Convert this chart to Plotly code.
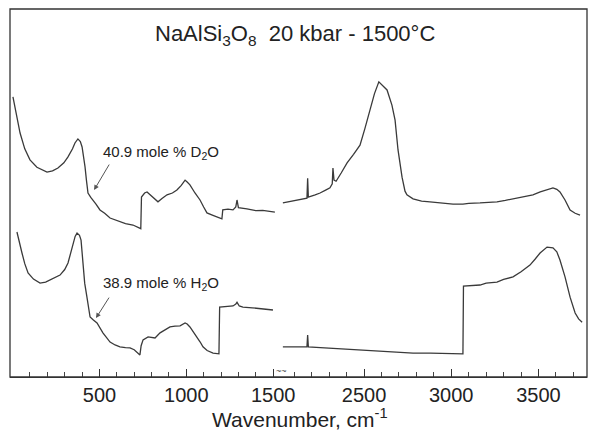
import plotly.graph_objects as go

# ---- data (wavenumber cm-1, absorbance offset arb. units) ----
d2o_low_wn = [2, 20, 43, 70, 100, 140, 198, 230, 261, 295, 319, 345, 359, 376, 390, 400, 410, 417, 425, 434,
              450, 463, 480, 503, 530, 561, 590, 618, 650, 693, 715, 738, 742, 760, 774, 800, 837, 860, 889,
              920, 946, 970, 993, 1005, 1021, 1050, 1079, 1100, 1119, 1150, 1177, 1205, 1210, 1240, 1269,
              1285, 1292, 1300, 1349, 1400, 1440, 1464, 1490, 1510]
d2o_low_a = [7.61, 7.15, 6.63, 6.20, 5.90, 5.70, 5.57, 5.60, 5.68, 5.82, 5.98, 6.20, 6.36, 6.47, 6.40, 6.25, 5.95,
             5.71, 5.35, 5.00, 4.88, 4.81, 4.70, 4.54, 4.45, 4.32, 4.27, 4.21, 4.17, 4.13, 4.09, 4.03, 4.89, 5.00,
             5.03, 4.92, 4.76, 4.85, 4.95, 5.00, 5.08, 5.20, 5.35, 5.30, 5.22, 5.00, 4.81, 4.62, 4.46, 4.40, 4.35,
             4.30, 4.54, 4.56, 4.54, 4.62, 4.81, 4.60, 4.57, 4.52, 4.53, 4.51, 4.48, 4.48]

d2o_high_wn = [2035, 2093, 2150, 2173, 2177, 2181, 2220, 2248, 2280, 2305, 2318, 2322, 2328, 2340, 2370, 2403,
               2440, 2477, 2505, 2534, 2560, 2585, 2600, 2632, 2660, 2678, 2695, 2707, 2718, 2735, 2746, 2781,
               2830, 2878, 2950, 3010, 3067, 3100, 3165, 3210, 3262, 3310, 3354, 3410, 3468, 3510, 3549, 3583,
               3605, 3623, 3652, 3681, 3710, 3738]
d2o_high_a = [4.73, 4.78, 4.82, 4.86, 5.40, 4.89, 4.95, 5.00, 5.08, 5.14, 5.25, 5.68, 5.35, 5.32, 5.55, 5.82,
              6.05, 6.30, 6.75, 7.26, 7.70, 8.02, 7.95, 7.80, 7.39, 6.98, 6.17, 5.75, 5.43, 5.05, 4.95, 4.84,
              4.78, 4.76, 4.72, 4.70, 4.70, 4.72, 4.73, 4.74, 4.76, 4.80, 4.84, 4.90, 4.95, 5.03, 5.08, 5.14,
              5.10, 5.03, 4.81, 4.54, 4.45, 4.40]

h2o_low_wn = [25, 40, 54, 70, 89, 120, 158, 190, 215, 245, 273, 300, 319, 335, 348, 360, 371, 385, 394, 400,
              405, 415, 428, 437, 446, 465, 486, 520, 540, 561, 590, 618, 650, 676, 700, 716, 733, 740, 751,
              780, 800, 820, 849, 880, 906, 935, 964, 993, 1005, 1021, 1040, 1062, 1080, 1096, 1120, 1154,
              1188, 1192, 1230, 1269, 1285, 1292, 1305, 1326, 1380, 1430, 1464, 1499]
h2o_low_a = [3.94, 3.62, 3.37, 3.08, 2.83, 2.66, 2.55, 2.58, 2.64, 2.70, 2.77, 2.92, 3.10, 3.38, 3.64, 3.82,
             3.91, 3.85, 3.72, 3.35, 2.99, 2.55, 2.17, 1.85, 1.63, 1.55, 1.47, 1.20, 1.07, 0.95, 0.87, 0.82,
             0.80, 0.79, 0.74, 0.68, 0.60, 0.85, 1.01, 1.09, 1.08, 1.06, 1.20, 1.30, 1.36, 1.38, 1.39, 1.47,
             1.44, 1.36, 1.23, 1.09, 0.95, 0.82, 0.72, 0.65, 0.63, 1.90, 1.92, 1.93, 1.98, 2.03, 1.93, 1.90,
             1.88, 1.86, 1.85, 1.82]

h2o_high_wn = [2035, 2100, 2173, 2177, 2181, 2250, 2320, 2403, 2500, 2592, 2700, 2781, 2880, 2976, 3067, 3070,
               3110, 3165, 3200, 3262, 3300, 3354, 3400, 3451, 3480, 3509, 3549, 3583, 3605, 3623, 3652, 3681,
               3710, 3730, 3750]
h2o_high_a = [0.82, 0.82, 0.82, 1.14, 0.82, 0.80, 0.78, 0.76, 0.73, 0.71, 0.67, 0.65, 0.65, 0.65, 0.63, 2.47,
              2.48, 2.50, 2.55, 2.58, 2.65, 2.72, 2.86, 3.04, 3.20, 3.37, 3.53, 3.51, 3.40, 3.18, 2.72, 2.17,
              1.74, 1.58, 1.49]

low_ticks = [500, 1000, 1500]
high_ticks = [2500, 3000, 3500]
low_minor = [100, 200, 300, 400, 600, 700, 800, 900, 1100, 1200, 1300, 1400]
high_minor = [2100, 2200, 2300, 2400, 2600, 2700, 2800, 2900, 3100, 3200, 3300, 3400, 3600, 3700]
title_text = "NaAlSi<sub>3</sub>O<sub>8</sub>  20 kbar - 1500°C"
label_d2o = "40.9 mole % D<sub>2</sub>O"
label_h2o = "38.9 mole % H<sub>2</sub>O"
xlabel = "Wavenumber, cm<sup>-1</sup>"

LINE = "#3a3a3a"
FONT = "Liberation Sans, Arial, sans-serif"
split = 0.4714

fig = go.Figure()
for xs, ys, ax in [(d2o_low_wn, d2o_low_a, "x"), (h2o_low_wn, h2o_low_a, "x"),
                   (d2o_high_wn, d2o_high_a, "x2"), (h2o_high_wn, h2o_high_a, "x2")]:
    fig.add_trace(go.Scatter(x=xs, y=ys, xaxis=ax, yaxis="y", mode="lines",
                             line=dict(color=LINE, width=1.3), showlegend=False, hoverinfo="skip"))

axis_common = dict(showgrid=False, zeroline=False, showline=True, linecolor="#333", linewidth=1.3,
                   ticks="inside", ticklen=8, tickcolor="#333", tickwidth=1.3,
                   tickfont=dict(family=FONT, size=20, color="#222"), anchor="y", automargin=False)
fig.update_layout(
    width=589, height=434, margin=dict(l=10, r=2, t=9, b=57, autoexpand=False),
    paper_bgcolor="white", plot_bgcolor="white",
    xaxis=dict(domain=[0, split], range=[-15, 1551], tickmode="array", tickvals=low_ticks,
               minor=dict(tickmode="array", tickvals=low_minor, ticks="inside", ticklen=5,
                          tickcolor="#444", tickwidth=1.2), **axis_common),
    xaxis2=dict(domain=[split, 1], range=[2030, 3778], tickmode="array", tickvals=high_ticks,
                minor=dict(tickmode="array", tickvals=high_minor, ticks="inside", ticklen=5,
                           tickcolor="#444", tickwidth=1.2), **axis_common),
    yaxis=dict(domain=[0, 1], range=[0, 10], visible=False),
    shapes=[dict(type="rect", xref="paper", yref="paper", x0=0, x1=1, y0=0, y1=1,
                 line=dict(color="#333", width=1.3), layer="above")],
)

fig.add_annotation(text=title_text, xref="paper", yref="paper", x=0.494, y=0.929,
                   xanchor="center", yanchor="middle",
                   showarrow=False, font=dict(family=FONT, size=22, color="#222"))
fig.add_annotation(text=xlabel, xref="paper", yref="paper", x=0.503, y=-0.112,
                   xanchor="center", yanchor="middle",
                   showarrow=False, font=dict(family=FONT, size=21, color="#222"))
fig.add_annotation(text=label_d2o, xref="paper", yref="paper", x=0.262, y=0.611,
                   xanchor="center", yanchor="middle",
                   showarrow=False, font=dict(family=FONT, size=15, color="#222"))
fig.add_annotation(text=label_h2o, xref="paper", yref="paper", x=0.262, y=0.253,
                   xanchor="center", yanchor="middle",
                   showarrow=False, font=dict(family=FONT, size=15, color="#222"))
# arrows
fig.add_annotation(text="", x=469, y=5.08, xref="x", yref="y", ax=16, ay=-27, showarrow=True,
                   arrowhead=2, arrowsize=1, arrowwidth=1, arrowcolor="#555")
fig.add_annotation(text="", x=480, y=1.60, xref="x", yref="y", ax=14, ay=-22, showarrow=True,
                   arrowhead=2, arrowsize=1, arrowwidth=1, arrowcolor="#555")
# axis break mark
fig.add_annotation(text="~~", xref="paper", yref="paper", x=split, y=0.015, showarrow=False,
                   xanchor="center", yanchor="middle", font=dict(family=FONT, size=9, color="#444"))

fig.write_html("out.html", config={"responsive": False},
               post_script="document.body.style.margin='0';document.body.style.overflow='hidden';"
                           "document.documentElement.style.overflow='hidden';")
